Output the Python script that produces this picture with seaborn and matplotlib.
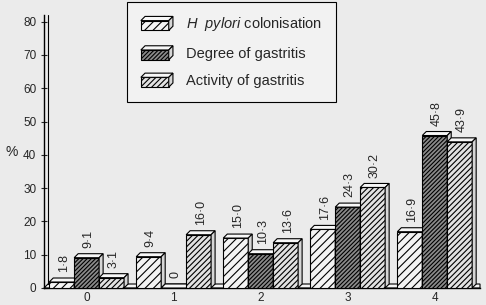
import numpy as np
import pandas as pd
import matplotlib
matplotlib.use("Agg")
import matplotlib.pyplot as plt
import seaborn as sns
from matplotlib.patches import Polygon, Patch, Rectangle
from matplotlib.legend_handler import HandlerBase

grades = ["0", "1", "2", "3", "4"]
colonisation = [1.8, 9.4, 15.0, 17.6, 16.9]
degree = [9.1, 0.0, 10.3, 24.3, 45.8]
activity = [3.1, 16.0, 13.6, 30.2, 43.9]
series = [r"$\mathit{H\ \ pylori}$ colonisation", "Degree of gastritis", "Activity of gastritis"]
yticks = [0, 10, 20, 30, 40, 50, 60, 70, 80]

faces = ["#f4f4f4", "#8a8a8a", "#e2e2e2"]
hatches = ["////", "////////", "//////"]
bg = "#ebebeb"

sns.set_theme(style="white")
plt.rcParams["font.family"] = ["Liberation Sans", "DejaVu Sans"]
plt.rcParams["mathtext.fontset"] = "custom"
plt.rcParams["mathtext.rm"] = "Liberation Sans"
plt.rcParams["mathtext.it"] = "Liberation Sans:italic"
plt.rcParams["hatch.linewidth"] = 0.8


class Box3D(HandlerBase):  # little 3D box for the legend keys
    def create_artists(self, legend, orig, xd, yd, w, h, fs, trans):
        d = 0.3 * h
        x0, y0 = -xd, -yd
        fw, fh = w - d, h - d
        kw = dict(edgecolor="black", linewidth=0.8, transform=trans)
        front = Rectangle((x0, y0), fw, fh, facecolor=orig.get_facecolor(),
                          hatch=orig.get_hatch(), **kw)
        top = Polygon([(x0, y0 + fh), (x0 + d, y0 + h), (x0 + w, y0 + h), (x0 + fw, y0 + fh)],
                      closed=True, facecolor="#f7f7f7", **kw)
        side = Polygon([(x0 + fw, y0), (x0 + fw, y0 + fh), (x0 + w, y0 + h), (x0 + w, y0 + d)],
                       closed=True, facecolor="#d6d6d6", **kw)
        return [front, top, side]


df = pd.DataFrame({
    "grade": grades * 3,
    "series": np.repeat(series, len(grades)),
    "value": colonisation + degree + activity,
})

fig = plt.figure(figsize=(4.86, 3.05), dpi=100, facecolor=bg)
ax = fig.add_axes([44 / 486, 17 / 305, 436 / 486, 273 / 305])
ax.set_facecolor(bg)

sns.barplot(data=df, x="grade", y="value", hue="series", hue_order=series,
            palette=faces, width=0.86, gap=0, edgecolor="black", linewidth=0.8,
            legend=False, ax=ax)

ax.set_xlim(-0.49, 4.52)
ax.set_ylim(0, 82)

# 3D depth, about 4 px to the right and up
dx = 4 / 87
dy = 4 / (273 / 82)

for h, cont in enumerate(ax.containers):
    for bar in cont:
        bar.set_hatch(hatches[h])
        bar.set_zorder(3 + h)
        x0, w, v = bar.get_x(), bar.get_width(), bar.get_height()
        x1 = x0 + w
        top = Polygon([(x0, v), (x0 + dx, v + dy), (x1 + dx, v + dy), (x1, v)],
                      closed=True, facecolor="#f7f7f7", edgecolor="black",
                      linewidth=0.8, zorder=3 + h)
        side = Polygon([(x1, 0), (x1, v), (x1 + dx, v + dy), (x1 + dx, dy)],
                       closed=True, facecolor="#d6d6d6", edgecolor="black",
                       linewidth=0.8, zorder=3 + h)
        ax.add_patch(top)
        ax.add_patch(side)
        label = "0" if v == 0 else f"{v:.1f}".replace(".", "·")
        ax.annotate(label, xy=(x0 + w / 2, v), xytext=(1.5, 7),
                    textcoords="offset points", rotation=90,
                    ha="center", va="bottom", fontsize=9, zorder=10)

# floor slab and back wall line
xl, xr = ax.get_xlim()
ax.add_patch(Polygon([(xl, 0), (xl + dx, dy), (xr, dy), (xr, 0)], closed=True,
                     facecolor="#f4f4f4", edgecolor="black", linewidth=0.8,
                     zorder=2, clip_on=False))
ax.plot([xl + dx, xl + dx], [dy, 82], color="black", linewidth=0.8, zorder=2)

sns.despine(ax=ax, top=True, right=True)
for s in ["left", "bottom"]:
    ax.spines[s].set_color("black")
    ax.spines[s].set_linewidth(1.0)

ax.set_yticks(yticks)
ax.set_yticklabels([str(t) for t in yticks], fontsize=8.5)
ax.tick_params(axis="y", direction="inout", length=5, width=0.8, pad=3, left=True)
ax.tick_params(axis="x", length=0, pad=3, labelsize=8.5)
ax.set_xlabel("")
ax.set_ylabel("%", rotation=0, fontsize=10, labelpad=8, va="center")

handles = [Patch(facecolor=faces[i], edgecolor="black", hatch=hatches[i], linewidth=0.8)
           for i in range(3)]
leg = fig.legend(handles, series, loc="upper left", bbox_to_anchor=(127 / 486, 0.995),
                 bbox_transform=fig.transFigure, borderaxespad=0, fontsize=10.5,
                 frameon=True, fancybox=False, edgecolor="black", facecolor="#f2f2f2",
                 framealpha=1, handlelength=2.2, handleheight=1.1,
                 labelspacing=0.85, borderpad=0.95, handletextpad=0.9,
                 handler_map={Patch: Box3D()})
leg.get_frame().set_linewidth(0.8)
leg.set_zorder(20)

fig.savefig("out.png", dpi=100, facecolor=bg)
